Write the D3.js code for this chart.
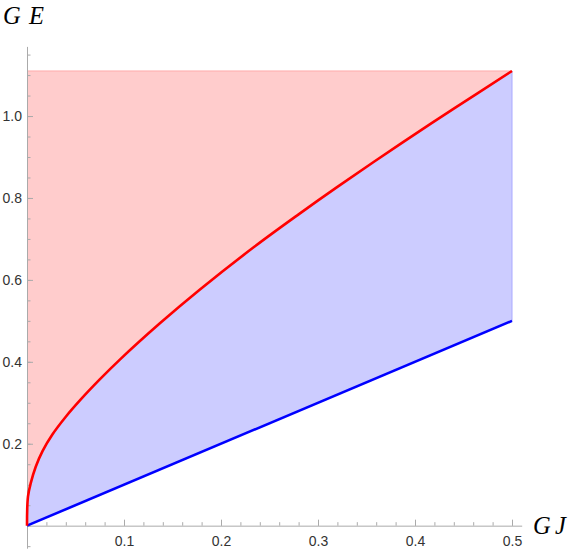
<!DOCTYPE html>
<html>
<head>
<meta charset="utf-8">
<script src="https://cdn.jsdelivr.net/npm/d3@7"></script>
<style>
  body { margin: 0; background: #fff; }
  svg { display: block; }
  .tick text { font-family: "Liberation Sans", Arial, sans-serif; font-size: 14px; fill: #333; }
  .axis-label { font-family: "Liberation Serif", "Times New Roman", serif; font-style: italic; font-size: 24.5px; fill: #000; }
</style>
</head>
<body>
<svg id="chart" width="581" height="552"></svg>
<script>
// upper bound E(J), red curve
const redJ = [0, 0.001, 0.004, 0.009, 0.016, 0.026, 0.040, 0.055, 0.075, 0.096, 0.137, 0.178, 0.235, 0.28, 0.32, 0.385, 0.44, 0.5];
const redE = [0, 0.071, 0.105, 0.144, 0.182, 0.222, 0.266, 0.307, 0.357, 0.406, 0.494, 0.576, 0.682, 0.760, 0.827, 0.932, 1.018, 1.11];
// lower bound, blue straight line
const blueJ = [0, 0.5];
const blueE = [0, 0.5];
// top of the shaded region
const topE = 1.11;

const xMajor = [0.1, 0.2, 0.3, 0.4, 0.5];
const yMajor = [0.2, 0.4, 0.6, 0.8, 1.0];
const xMinor = d3.range(0.02, 0.501, 0.02);
const yMinor = d3.range(-0.05, 1.151, 0.05);

const svg = d3.select("#chart");

const x = d3.scaleLinear().domain([0, 0.51]).range([27, 521.7]);
const y = d3.scaleLinear().domain([-0.055, 1.17]).range([548.2, 46.4]);

const red = redJ.map((j, i) => ({ J: j, E: redE[i] }));
const blue = blueJ.map((j, i) => ({ J: j, E: blueE[i] }));

const line = d3.line().x(d => x(d.J)).y(d => y(d.E)).curve(d3.curveCatmullRom.alpha(0.5));
const redPath = line(red);

// filled regions
svg.append("path")
  .attr("d", redPath + `L${x(0.5)},${y(topE)}L${x(0)},${y(topE)}Z`)
  .attr("fill", "#ffcccc");

svg.append("path")
  .attr("d", redPath + `L${x(blue[1].J)},${y(blue[1].E)}L${x(blue[0].J)},${y(blue[0].E)}Z`)
  .attr("fill", "#ccccff");

// fill edges
svg.append("line")
  .attr("x1", x(0)).attr("x2", x(0.5))
  .attr("y1", y(topE)).attr("y2", y(topE))
  .attr("stroke", "#ffaaaa").attr("stroke-width", 1);

svg.append("line")
  .attr("x1", x(0.5)).attr("x2", x(0.5))
  .attr("y1", y(topE)).attr("y2", y(blue[1].E))
  .attr("stroke", "#aaaaff").attr("stroke-width", 1);

// axes
const axisColor = "#aaa";
function styleAxis(g) {
  g.selectAll(".domain").attr("stroke", axisColor);
  g.selectAll(".tick line").attr("stroke", axisColor);
}

svg.append("g")
  .attr("transform", `translate(0,${y(0)})`)
  .call(d3.axisBottom(x).tickValues(xMinor).tickFormat("").tickSize(-3.5).tickSizeOuter(0))
  .call(g => g.select(".domain").remove())
  .call(styleAxis);

svg.append("g")
  .attr("transform", `translate(${x(0)},0)`)
  .call(d3.axisLeft(y).tickValues(yMinor).tickFormat("").tickSize(-3.5).tickSizeOuter(0))
  .call(g => g.select(".domain").remove())
  .call(styleAxis);

svg.append("g")
  .attr("transform", `translate(0,${y(0)})`)
  .call(d3.axisBottom(x).tickValues(xMajor).tickFormat(d3.format(".1f")).tickSize(-6).tickSizeOuter(0).tickPadding(10))
  .call(styleAxis);

svg.append("g")
  .attr("transform", `translate(${x(0)},0)`)
  .call(d3.axisLeft(y).tickValues(yMajor).tickFormat(d3.format(".1f")).tickSize(-6).tickSizeOuter(0).tickPadding(5))
  .call(styleAxis);

// curves
svg.append("path")
  .attr("d", line(blue))
  .attr("fill", "none").attr("stroke", "#0000ff").attr("stroke-width", 2.6);

svg.append("path")
  .attr("d", redPath)
  .attr("fill", "none").attr("stroke", "#ff0000").attr("stroke-width", 2.6);

// axis labels
svg.append("text").attr("class", "axis-label").attr("x", 3).attr("y", 23.5).text("G");
svg.append("text").attr("class", "axis-label").attr("x", 29).attr("y", 23.5).text("E");
svg.append("text").attr("class", "axis-label").attr("x", 533).attr("y", 534).text("G");
svg.append("text").attr("class", "axis-label").attr("x", 555).attr("y", 534).text("J");
</script>
</body>
</html>
